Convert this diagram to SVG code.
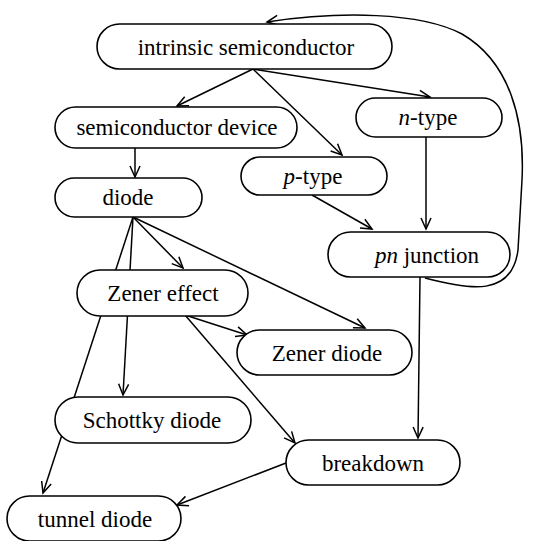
<svg xmlns="http://www.w3.org/2000/svg" width="533" height="541" viewBox="0 0 533 541">
<defs>
<style>
.n rect{fill:#fff;stroke:#000;stroke-width:1.6}
.n text{font-family:'Liberation Serif','Times New Roman','DejaVu Serif',serif;font-size:23px;text-anchor:middle;fill:#000}
#edges path{fill:none;stroke:#000;stroke-width:1.5;marker-end:url(#arr)}
</style>
<marker id="arr" viewBox="-12 -6 14 12" markerWidth="14" markerHeight="12" refX="0" refY="0" orient="auto" markerUnits="userSpaceOnUse">
<path d="M-11,-5 L0,0 L-11,5" fill="none" stroke="#000" stroke-width="1.5"/>
</marker>
</defs>
<rect width="533" height="541" fill="#fff"/>
<g id="edges">
<path d="M253,69 L177,106"/>
<path d="M253,69 L342,155"/>
<path d="M253,69 L430,97"/>
<path d="M135,148 L135,177"/>
<path d="M426,137 L426,229"/>
<path d="M312,195 L372,229"/>
<path d="M425,278 C470,290 512,297 518,250 L522,180 C525,120 510,62 462,34 C420,12 340,11 267,22"/>
<path d="M420,277 L418,438"/>
<path d="M133,217 L183,268"/>
<path d="M133,217 L365,328"/>
<path d="M133,217 L123,395"/>
<path d="M133,217 L43,493"/>
<path d="M185,315 L247,335"/>
<path d="M185,315 L295,443"/>
<path d="M286,463 L177,505"/>
</g>
<g id="intrinsic" class="n"><rect x="97" y="24" width="295" height="45" rx="22.5"/><text x="246" y="55" font-family="Liberation Serif, serif">intrinsic semiconductor</text></g>
<g id="semidevice" class="n"><rect x="55" y="107" width="242" height="41" rx="20.5"/><text x="177" y="135">semiconductor device</text></g>
<g id="ntype" class="n"><rect x="356" y="98" width="146" height="39" rx="19.5"/><text x="428" y="125"><tspan font-style="italic">n</tspan>-type</text></g>
<g id="ptype" class="n"><rect x="241" y="157" width="146" height="38" rx="19"/><text x="313" y="184"><tspan font-style="italic">p</tspan>-type</text></g>
<g id="diode" class="n"><rect x="55" y="178" width="147" height="39" rx="19.5"/><text x="128" y="205">diode</text></g>
<g id="pnjunction" class="n"><rect x="328" y="232" width="182" height="45" rx="22.5"/><text x="427" y="263"><tspan font-style="italic">pn</tspan> junction</text></g>
<g id="zenereffect" class="n"><rect x="77" y="270" width="171" height="46" rx="23"/><text x="163" y="301">Zener effect</text></g>
<g id="zenerdiode" class="n"><rect x="237" y="330" width="175" height="45" rx="22.5"/><text x="327" y="361">Zener diode</text></g>
<g id="schottky" class="n"><rect x="55" y="397" width="196" height="46" rx="23"/><text x="152" y="428">Schottky diode</text></g>
<g id="breakdown" class="n"><rect x="286" y="440" width="174" height="45" rx="22.5"/><text x="373" y="471">breakdown</text></g>
<g id="tunnel" class="n"><rect x="7" y="496" width="174" height="45" rx="22.5"/><text x="95" y="527">tunnel diode</text></g>
</svg>
